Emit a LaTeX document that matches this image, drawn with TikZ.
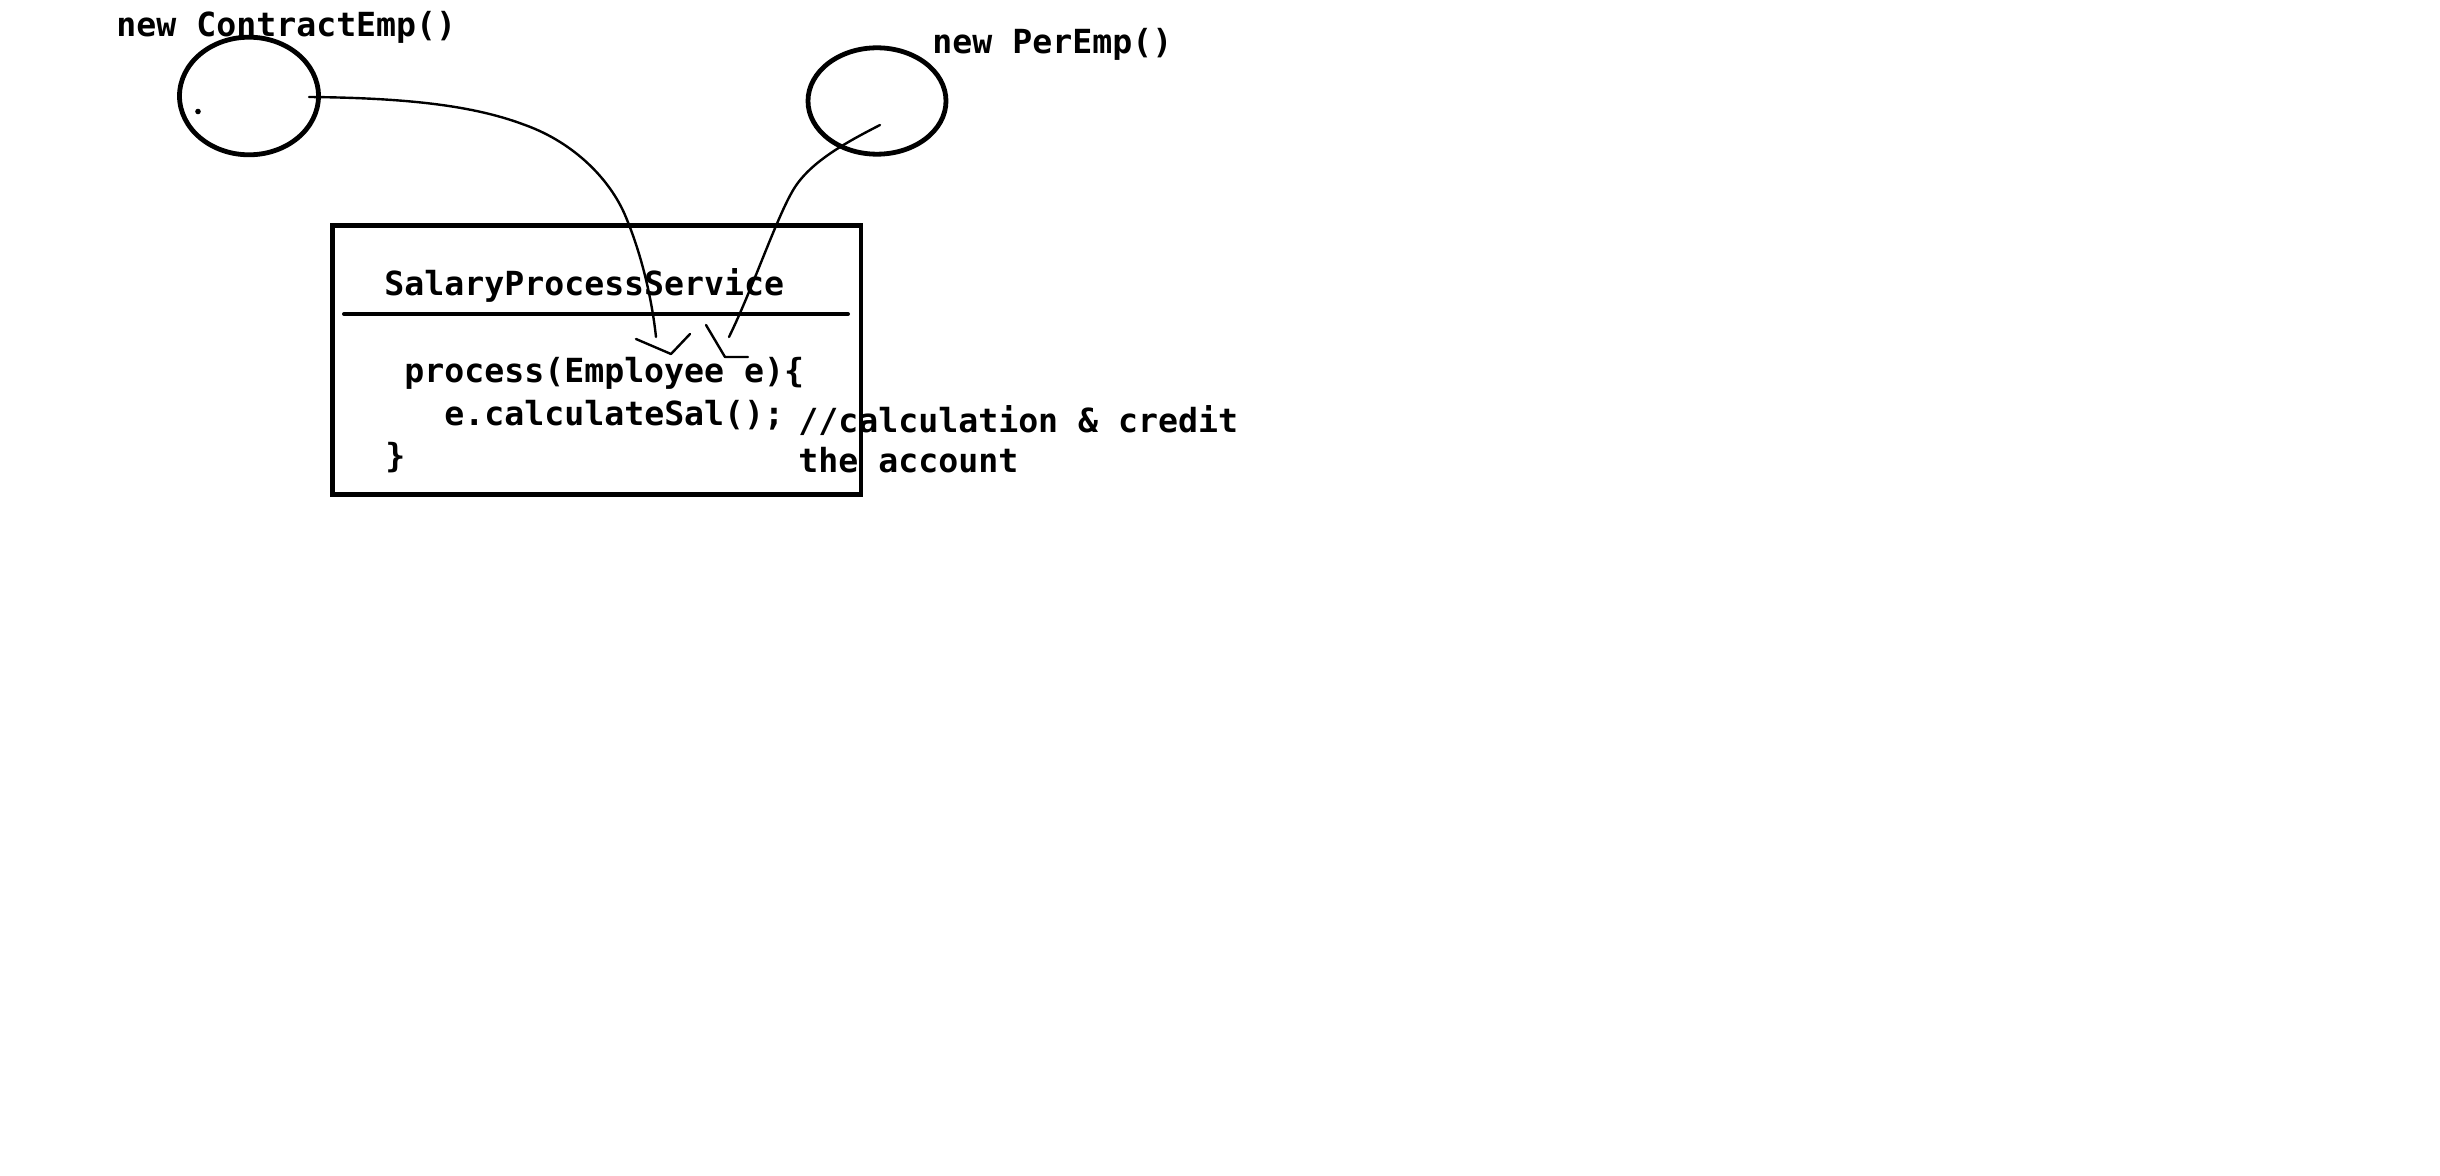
\documentclass[tikz,border=0pt]{standalone}
\usepackage{fontspec}
\setmonofont{DejaVu Sans Mono}
\usepackage{tikz}
\usetikzlibrary{shapes}
\tikzset{ell/.style={ellipse,draw,line width=2.4pt,inner sep=0pt}}
\tikzset{txt/.style={anchor=base west,inner sep=0pt,font=\fontsize{16.6}{20}\ttfamily\bfseries}}
\tikzset{wire/.style={line width=1.2pt,line join=round,line cap=round}}

\begin{document}
\begin{tikzpicture}[x=0.5pt,y=-0.5pt]
    \useasboundingbox (0,0) rectangle (2440,1176);

    \node[ell,minimum width=69.5pt,minimum height=58.8pt] (a) at (249,96) {};
    \node[ell,minimum width=69pt,minimum height=53.2pt] (b) at (877,101) {};
    \node[draw,line width=2.3pt,minimum width=264.3pt,minimum height=134.7pt,inner sep=0pt] (s) at (596.5,360) {};

    \node[txt] (c) at (116,37) {new ContractEmp()};
    \node[txt] (d) at (932,54) {new PerEmp()};
    \node[txt] (e) at (384,296) {SalaryProcessService};
    \node[txt] (f) at (404,383) {process(Employee e)\{};
    \node[txt] (g) at (444,425) {e.calculateSal();};
    \node[txt] (h) at (385,467) {\}};
    \node[txt] (i) at (798,432) {//calculation \& credit};
    \node[txt] (j) at (798,473) {the account};

    \coordinate (k) at (344,314);
    \coordinate (l) at (848,314);
    \draw [line width=2pt,line cap=round] (k) -- (l);

    \fill (198,111.5) circle (1.4pt);

    \coordinate (m) at (309,97);
    \coordinate (n) at (656,337);
    \coordinate (o) at (880,125);
    \coordinate (p) at (729,337);
    \draw [wire] (m) .. controls (420,98) and (480,108) .. (525,125)
        .. controls (575,143) and (610,180) .. (625,215)
        .. controls (642,255) and (652,300) .. (n);
    \draw [wire] (o) .. controls (845,143) and (808,163) .. (792,192)
        .. controls (775,222) and (752,290) .. (p);
    \draw [wire] (636,339) -- (671,354) -- (690,334);
    \draw [wire] (706,325) -- (725,357) -- (748,357);
\end{tikzpicture}
\end{document}
